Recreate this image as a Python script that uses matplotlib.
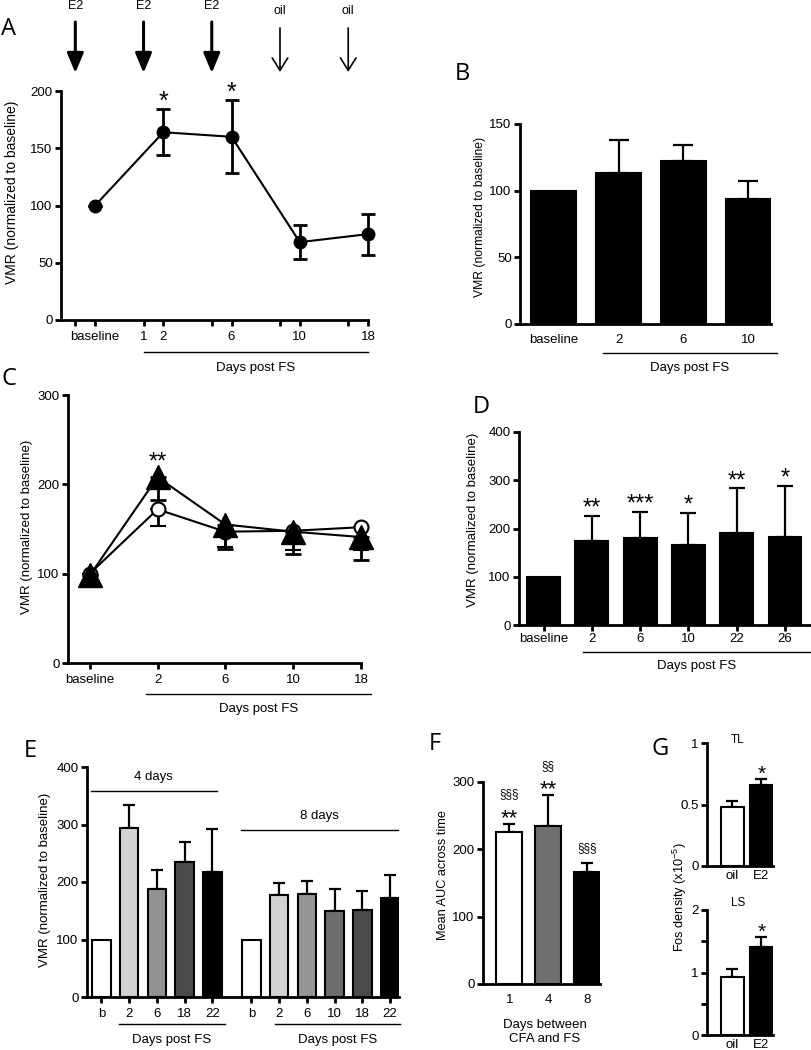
"""Seven-panel VMR / Fos figure (panels A-G) rebuilt with matplotlib."""

import numpy as np
import matplotlib
matplotlib.use("Agg")
import matplotlib.pyplot as plt
from matplotlib.transforms import blended_transform_factory as blend

plt.rcParams['font.family'] = ['Liberation Sans', 'DejaVu Sans']
plt.rcParams['mathtext.fontset'] = 'custom'
plt.rcParams['mathtext.rm'] = 'Liberation Sans'
plt.rcParams['mathtext.it'] = 'Liberation Sans:italic'

# ---- data -------------------------------------------------------------
a_days = ['baseline', '2', '6', '10', '18']
a_inj_day = ['', '1', '', '', '']
a_inject = ['E2', 'E2', 'E2', 'oil', 'oil']
a_mean = [100, 164, 160, 68, 75]
a_sem = [0, 20, 32, 15, 18]
a_sig = ['', '*', '*', '', '']

b_days = ['baseline', '2', '6', '10']
b_mean = [100, 113, 122, 94]
b_sem = [0, 25, 12, 13]

c_days = ['baseline', '2', '6', '10', '18']
c_circle = [100, 172, 147, 148, 152]
c_circle_sem = [0, 19, 17, 21, 26]
c_tri = [98, 208, 155, 147, 141]
c_tri_sem = [0, 26, 27, 25, 26]
c_sig = ['', '**', '', '', '']

d_days = ['baseline', '2', '6', '10', '22', '26']
d_mean = [100, 175, 180, 166, 191, 182]
d_sem = [0, 51, 55, 67, 92, 106]
d_sig = ['', '**', '***', '*', '**', '*']

e_days_4 = ['b', '2', '6', '18', '22']
e_mean_4 = [100, 294, 188, 235, 218]
e_sem_4 = [0, 40, 33, 35, 74]
e_days_8 = ['b', '2', '6', '10', '18', '22']
e_mean_8 = [100, 177, 180, 150, 151, 172]
e_sem_8 = [0, 22, 21, 38, 34, 40]

f_days = ['1', '4', '8']
f_mean = [226, 234, 167]
f_sem = [12, 46, 13]
f_star = ['**', '**', '']
f_sect = ['§§§', '§§', '§§§']

g_groups = ['oil', 'E2']
g_tl = [0.48, 0.66]
g_tl_sem = [0.05, 0.05]
g_ls = [0.93, 1.41]
g_ls_sem = [0.13, 0.16]
g_sig = ['', '*']

# ---- layout helpers ---------------------------------------------------
W, H = 811, 1050
fig = plt.figure(figsize=(W / 100, H / 100), dpi=100)
FS = 9.5


def fy(y):
    return 1 - y / H


def add_axes(l, t, r, b):
    ax = fig.add_axes([l / W, 1 - b / H, (r - l) / W, (b - t) / H])
    ax.spines[['top', 'right']].set_visible(False)
    ax.spines[['left', 'bottom']].set_linewidth(2)
    ax.tick_params(width=2, length=4, labelsize=FS, pad=2)
    return ax


def label(x, y, s, **kw):
    kw.setdefault('ha', 'center')
    kw.setdefault('va', 'center')
    kw.setdefault('fontsize', FS)
    fig.text(x / W, fy(y), s, **kw)


def letter(x, y, s):
    fig.text(x / W, fy(y), s, family='Open Sans', fontsize=17,
             ha='center', va='baseline')


def hline(ax, x0, x1, y, lw=1.0):
    ax.plot([x0, x1], [fy(y), fy(y)], color='k', lw=lw, clip_on=False,
            transform=blend(ax.transData, fig.transFigure))


def bracket(ax, x0, x1, yl, yt, text='Days post FS'):
    hline(ax, x0, x1, yl)
    ax.text((x0 + x1) / 2, fy(yt), text, ha='center', va='center',
            fontsize=FS, transform=blend(ax.transData, fig.transFigure))


def bars(ax, x, mean, sem, width, colors, capsize, lw=1.5):
    x, mean, sem = np.asarray(x, float), np.asarray(mean, float), np.asarray(sem, float)
    ax.bar(x, mean, width=width, color=colors, edgecolor='k', linewidth=lw, zorder=2)
    m = sem > 0
    ax.errorbar(x[m], mean[m], yerr=[np.zeros(m.sum()), sem[m]], fmt='none',
                ecolor='k', elinewidth=1.6, capsize=capsize, capthick=1.6, zorder=1)


def stars(ax, x, top, sig, size, off):
    for xi, ti, s in zip(x, top, sig):
        if s:
            ax.annotate(s, (xi, ti), xytext=(0, off), textcoords='offset points',
                        ha='center', va='baseline', fontsize=size,
                        annotation_clip=False)


# ---- A ----------------------------------------------------------------
ax = add_axes(61, 91, 368, 320)
xa = np.arange(len(a_days))
ax.errorbar(xa, a_mean, yerr=a_sem, fmt='-o', color='k', ms=9, lw=1.5,
            elinewidth=2, capsize=5, capthick=2, clip_on=False, zorder=3)
inj_x = xa - 0.29
ax.set_xticks(np.concatenate([xa, inj_x]), a_days + a_inj_day)
ax.tick_params(axis='x', pad=4)
ax.set_xlim(-0.5, 4)
ax.set_ylim(0, 200)
ax.set_yticks([0, 50, 100, 150, 200])
stars(ax, xa, np.add(a_mean, a_sem), a_sig, 18, 0)
tr = blend(ax.transData, fig.transFigure)
for x, name in zip(inj_x, a_inject):
    if name == 'E2':
        props = dict(arrowstyle='-|>,head_length=0.6,head_width=0.25', lw=2.2,
                     mutation_scale=20)
        y0, y1, yt = 22, 73, 6
    else:
        props = dict(arrowstyle='->,head_length=0.45,head_width=0.28', lw=1.2,
                     mutation_scale=20)
        y0, y1, yt = 28, 72, 11
    ax.annotate('', xy=(x, fy(y1)), xytext=(x, fy(y0)), xycoords=tr, textcoords=tr,
                arrowprops=dict(color='k', shrinkA=0, shrinkB=0, **props),
                annotation_clip=False)
    ax.text(x, fy(yt), name, transform=tr, ha='center', va='center', fontsize=9)
bracket(ax, inj_x[1], xa[-1], 352, 368)
label(12, 192, 'VMR (normalized to baseline)', rotation=90, fontsize=10)
letter(8.5, 35, 'A')

# ---- B ----------------------------------------------------------------
ax = add_axes(520, 124, 771, 324)
xb = np.arange(len(b_days))
bars(ax, xb, b_mean, b_sem, 0.69, 'k', 7)
ax.set_xticks(xb, b_days)
ax.tick_params(axis='x', length=0, pad=7)
ax.set_xlim(-0.52, 3.35)
ax.set_ylim(0, 150)
ax.set_yticks([0, 50, 100, 150])
bracket(ax, 0.76, 3.44, 353, 368)
label(480, 217, 'VMR (normalized to baseline)', rotation=90, fontsize=8.7)
letter(462, 80, 'B')

# ---- C ----------------------------------------------------------------
ax = add_axes(68, 395, 361, 663)
xc = np.arange(len(c_days))
ax.errorbar(xc, c_circle, yerr=[c_circle_sem, np.zeros(len(xc))], fmt='-o',
            color='k', mfc='white', mec='k', mew=1.5, ms=10, lw=1.5,
            elinewidth=2, capsize=6, capthick=2, clip_on=False, zorder=3)
ax.errorbar(xc, c_tri, yerr=[c_tri_sem, np.zeros(len(xc))], fmt='-^',
            color='k', ms=17, lw=1.5, elinewidth=2, capsize=6, capthick=2,
            clip_on=False, zorder=4)
stars(ax, xc, c_tri, c_sig, 17, 6)
ax.set_xticks(xc, c_days)
ax.tick_params(axis='x', pad=4)
ax.set_xlim(-0.32, 4)
ax.set_ylim(0, 300)
ax.set_yticks([0, 100, 200, 300])
bracket(ax, 0.83, 4.15, 694, 709)
label(27, 527, 'VMR (normalized to baseline)', rotation=90)
letter(9, 385, 'C')

# ---- D ----------------------------------------------------------------
ax = add_axes(519, 432, 811, 625)
xd = np.arange(len(d_days))
bars(ax, xd, d_mean, d_sem, 0.68, 'k', 6)
stars(ax, xd, np.add(d_mean, d_sem), d_sig, 17, 1)
ax.set_xticks(xd, d_days)
ax.set_xlim(-0.51, 5.54)
ax.set_ylim(0, 400)
ax.set_yticks([0, 100, 200, 300, 400])
bracket(ax, 0.82, 5.54, 652, 666)
label(473, 520, 'VMR (normalized to baseline)', rotation=90)
letter(481, 413, 'D')

# ---- E ----------------------------------------------------------------
ax = add_axes(87, 767, 399, 997)
xe4 = np.arange(len(e_days_4))
xe8 = np.arange(len(e_days_8)) + 5.4
bars(ax, xe4, e_mean_4, e_sem_4, 0.67,
     ['white', '#d2d2d2', '#929292', '#4a4a4a', 'black'], 4.5)
bars(ax, xe8, e_mean_8, e_sem_8, 0.67,
     ['white', '#d2d2d2', '#959595', '#6c6c6c', '#4a4a4a', 'black'], 4.5)
ax.set_xticks(np.concatenate([xe4, xe8]), e_days_4 + e_days_8)
ax.tick_params(axis='x', pad=4)
ax.set_xlim(-0.52, 10.72)
ax.set_ylim(0, 400)
ax.set_yticks([0, 100, 200, 300, 400])
bracket(ax, 0.63, 4.45, 1024, 1040)
bracket(ax, 6.25, 10.76, 1024, 1040)
bracket(ax, -0.38, 4.16, 791, 777, '4 days')
bracket(ax, 5.03, 10.68, 830, 816, '8 days')
label(45, 880, 'VMR (normalized to baseline)', rotation=90)
letter(30, 757, 'E')

# ---- F ----------------------------------------------------------------
ax = add_axes(483, 782, 600, 984)
xf = np.arange(len(f_days))
bars(ax, xf, f_mean, f_sem, 0.67, ['white', '#707070', 'black'], 4.5)
ftop = np.add(f_mean, f_sem)
stars(ax, xf, ftop, f_star, 16, 0)
for xi, ti, st, sc in zip(xf, ftop, f_star, f_sect):
    ax.annotate(sc, (xi, ti), xytext=(0, 19 if st else 8.6),
                textcoords='offset points', ha='center', va='baseline',
                fontsize=8.5, annotation_clip=False)
ax.set_xticks(xf, f_days)
ax.tick_params(axis='x', length=0, pad=7)
ax.set_xlim(-0.68, 2.34)
ax.set_ylim(0, 300)
ax.set_yticks([0, 100, 200, 300])
label(545, 1032, 'Days between\nCFA and FS', linespacing=1.15)
label(443, 875, 'Mean AUC across time', rotation=90, fontsize=9.2)
letter(435, 750, 'F')

# ---- G ----------------------------------------------------------------
xg = np.arange(len(g_groups))
for (t, b), vals, sem, ymax, ticks, tlabels, name, ny in [
        ((743, 866), g_tl, g_tl_sem, 1, [0, 0.5, 1], ['0', '0.5', '1'], 'TL', 740),
        ((910, 1035), g_ls, g_ls_sem, 2, [0, 0.5, 1, 1.5, 2],
         ['0', '', '1', '', '2'], 'LS', 903)]:
    ax = add_axes(707, t, 773, b)
    bars(ax, xg, vals, sem, 0.79, ['white', 'black'], 4)
    stars(ax, xg, np.add(vals, sem), g_sig, 15, -1)
    ax.set_xticks(xg, g_groups)
    ax.tick_params(axis='x', length=0, pad=3)
    ax.set_xlim(-0.88, 1.4)
    ax.set_ylim(0, ymax)
    ax.set_yticks(ticks, tlabels)
    label(738, ny, name, fontsize=8.5)
label(680, 897, 'Fos density (x10$^{-5}$)', rotation=90, fontsize=9.2)
letter(660, 755, 'G')

fig.savefig('out.png', dpi=100)
